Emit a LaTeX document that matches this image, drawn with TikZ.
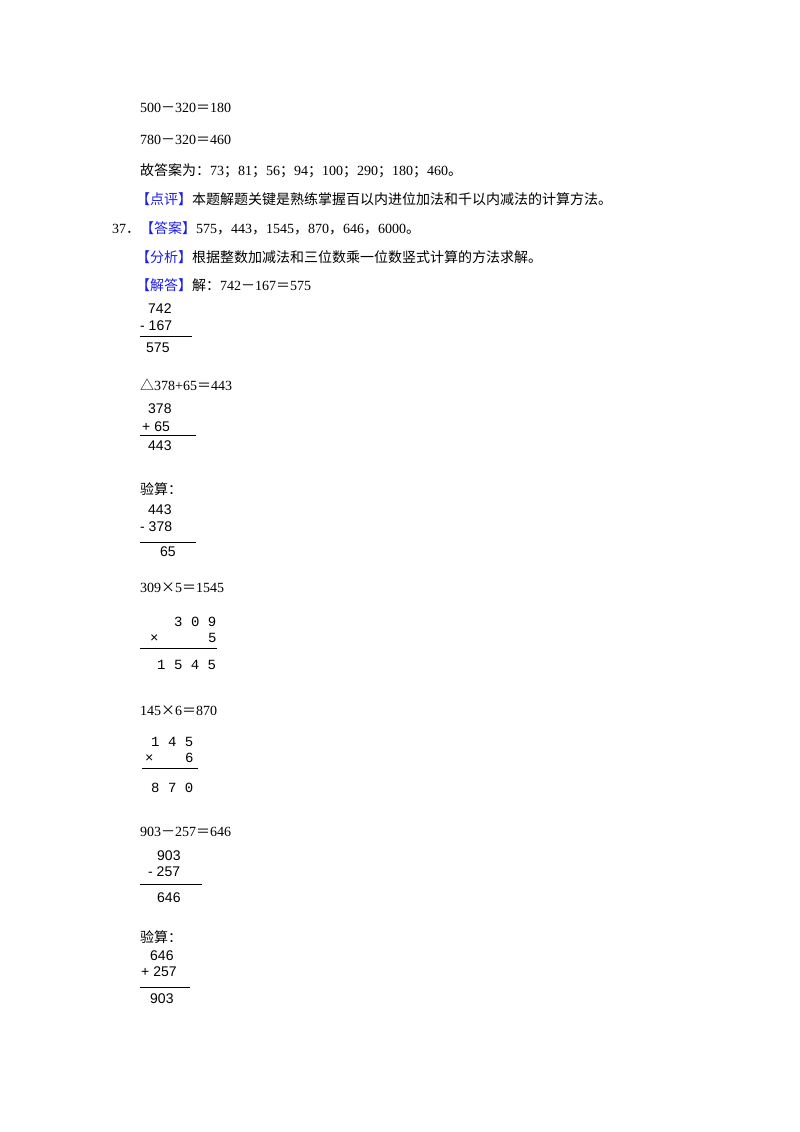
\documentclass[tikz,border=0pt]{standalone}
\usepackage{fontspec}
\setmainfont{Liberation Serif}
\newfontfamily\cj{Noto Sans CJK SC}
\newfontfamily\ar{Liberation Sans}
\newfontfamily\mo{Liberation Mono}
\definecolor{bl}{RGB}{30,30,230}
\newcommand{\lb}[1]{\textcolor{bl}{\cj 【#1】}}
\begin{document}
\begin{tikzpicture}[x=1pt,y=-1pt,
  t/.style={anchor=base west,inner sep=0pt,font=\fontsize{14}{16}\selectfont},
  v/.style={anchor=base west,inner sep=0pt,font=\ar\fontsize{14}{16}\selectfont},
  m/.style={anchor=base west,inner sep=0pt,font=\mo\fontsize{14}{16}\selectfont},
  rule/.style={line width=0.8pt}]
\useasboundingbox[fill=white] (0,0) rectangle (800,1132);
\node[t] (a1) at (140,112) {500{\cj －}320{\cj ＝}180};
\node[t] (a2) at (140,144) {780{\cj －}320{\cj ＝}460};
\node[t] (a3) at (140,175) {{\cj 故答案为：}73{\cj ；}81{\cj ；}56{\cj ；}94{\cj ；}100{\cj ；}290{\cj ；}180{\cj ；}460{\cj 。}};
\node[t] (a4) at (136,204) {\lb{点评}{\cj 本题解题关键是熟练掌握百以内进位加法和千以内减法的计算方法。}};
\node[t] (a5) at (112,233) {37{\cj ．}\lb{答案}575{\cj ，}443{\cj ，}1545{\cj ，}870{\cj ，}646{\cj ，}6000{\cj 。}};
\node[t] (a6) at (136,262) {\lb{分析}{\cj 根据整数加减法和三位数乘一位数竖式计算的方法求解。}};
\node[t] (a7) at (136,290) {\lb{解答}{\cj 解：}742{\cj －}167{\cj ＝}575};
% 742-167
\node[v] (b1) at (148,313) {742};
\node[v] (b2) at (140,330) {- 167};
\draw[rule] (140,336) -- (192,336);
\node[v] (b3) at (146,352) {575};
% 378+65
\node[t] (c0) at (140,390) {{\cj △}378+65{\cj ＝}443};
\node[v] (c1) at (148,413) {378};
\node[v] (c2) at (142,431) {+ 65};
\draw[rule] (140,435) -- (196,435);
\node[v] (c3) at (148,450) {443};
% check
\node[t] (d0) at (140,494) {\cj 验算：};
\node[v] (d1) at (148,514) {443};
\node[v] (d2) at (140,531) {- 378};
\draw[rule] (140,542) -- (196,542);
\node[v] (d3) at (160,556) {65};
% 309x5
\node[t] (e0) at (140,592) {309{\cj ×}5{\cj ＝}1545};
\node[m] (e1) at (174,626) {3 0 9};
\node[m] (e2) at (150,642) {×};
\node[m] (e2b) at (208,642) {5};
\draw[rule] (140,648) -- (217,648);
\node[m] (e3) at (157,669) {1 5 4 5};
% 145x6
\node[t] (f0) at (140,715) {145{\cj ×}6{\cj ＝}870};
\node[m] (f1) at (151,746) {1 4 5};
\node[m] (f2) at (145,762) {×};
\node[m] (f2b) at (185,762) {6};
\draw[rule] (142,768) -- (198,768);
\node[m] (f3) at (151,792) {8 7 0};
% 903-257
\node[t] (g0) at (140,836) {903{\cj －}257{\cj ＝}646};
\node[v] (g1) at (157,860) {903};
\node[v] (g2) at (148,876) {- 257};
\draw[rule] (140,884) -- (202,884);
\node[v] (g3) at (157,902) {646};
% check
\node[t] (h0) at (140,942) {\cj 验算：};
\node[v] (h1) at (150,960) {646};
\node[v] (h2) at (141,976) {+ 257};
\draw[rule] (140,987) -- (190,987);
\node[v] (h3) at (150,1003) {903};
\end{tikzpicture}
\end{document}
